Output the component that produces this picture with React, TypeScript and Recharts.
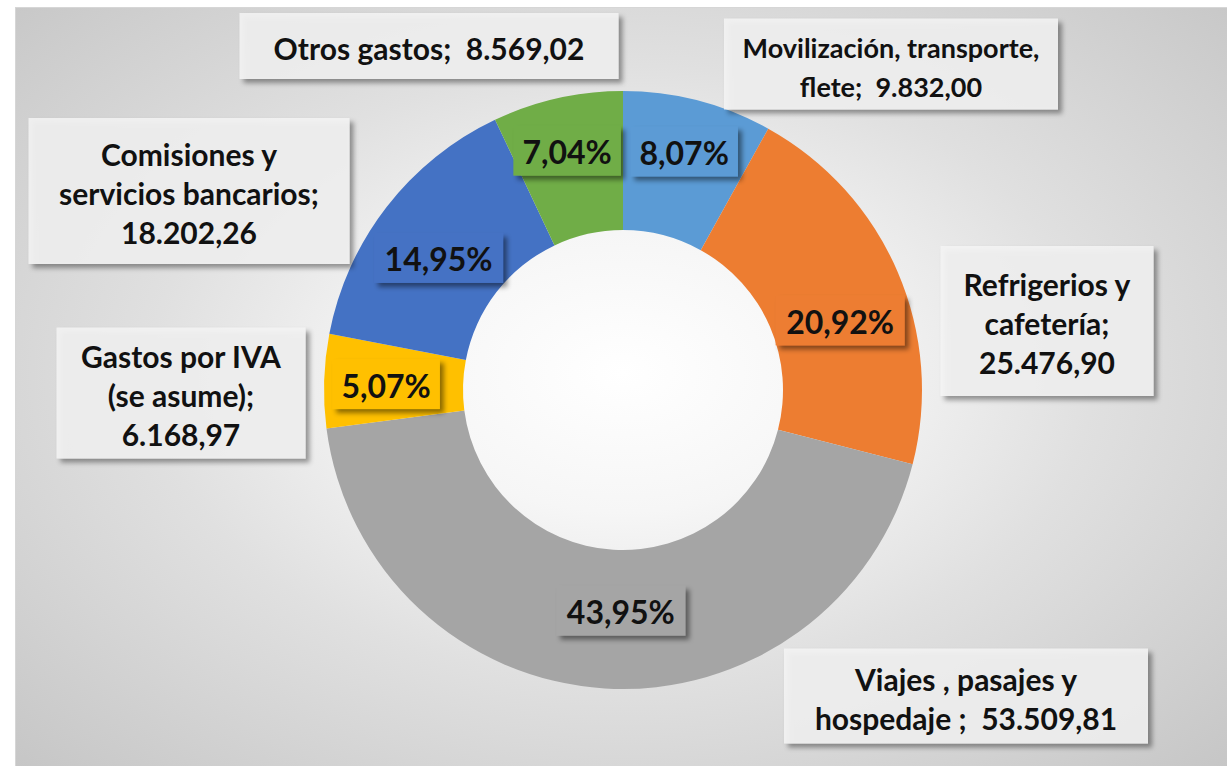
import { PieChart, Pie, Cell } from 'recharts';

const categories = [
  'Movilización, transporte,\nflete',
  'Refrigerios y\ncafetería',
  'Viajes , pasajes y\nhospedaje ',
  'Gastos por IVA\n(se asume)',
  'Comisiones y\nservicios bancarios',
  'Otros gastos',
];
const amounts = [9832.0, 25476.9, 53509.81, 6168.97, 18202.26, 8569.02];
// true when the value goes on its own line in the callout
const valueOnNewLine = [false, true, false, true, true, false];
const sliceColors = ['#5B9BD5', '#ED7D31', '#A5A5A5', '#FFC000', '#4472C4', '#70AD47'];

// callout boxes placed by hand (offset from the pie centre, box size, font size)
const calloutBoxes = [
  { dx: 268, dy: -326, w: 334, h: 91, fs: 27 },
  { dx: 424, dy: -69, w: 213, h: 150, fs: 30 },
  { dx: 343, dy: 306, w: 364, h: 95, fs: 30 },
  { dx: -442, dy: 3, w: 249, h: 131, fs: 30 },
  { dx: -434, dy: -199, w: 321, h: 146, fs: 30 },
  { dx: -194, dy: -344, w: 379, h: 66, fs: 30 },
];
const percentNudge = [
  [3, -14],
  [4, 22],
  [12, -11],
  [-5, 1],
  [-1, 10],
  [-5, -13],
];

const data = categories.map((name, i) => ({ name, value: amounts[i] }));

const FONT = 'Lato, "Open Sans", sans-serif';
const LINE_H = 39;

const formatEs = (v: number) => {
  const [int, dec] = v.toFixed(2).split('.');
  return int.replace(/\B(?=(\d{3})+(?!\d))/g, '.') + ',' + dec;
};

const renderLabel = (props: any) => {
  const { cx, cy, midAngle, percent, index } = props;
  const RAD = Math.PI / 180;
  const r = 232;
  const px = cx + r * Math.cos(-midAngle * RAD) + percentNudge[index][0];
  const py = cy + r * Math.sin(-midAngle * RAD) + percentNudge[index][1];
  const pct = (percent * 100).toFixed(2).replace('.', ',') + '%';
  const pw = pct.length * 21.5;
  const ph = 50;

  const box = calloutBoxes[index];
  const bx = cx + box.dx;
  const by = cy + box.dy;
  const text =
    categories[index] + (valueOnNewLine[index] ? ';\n' : ';  ') + formatEs(amounts[index]);
  const lines = text.split('\n');

  return (
    <g key={`lbl-${index}`}>
      <rect
        x={px - pw / 2}
        y={py - ph / 2}
        width={pw}
        height={ph}
        fill={sliceColors[index]}
        filter="url(#boxShadow)"
      />
      <text
        x={px}
        y={py + 1}
        textAnchor="middle"
        dominantBaseline="central"
        fontFamily={FONT}
        fontWeight={700}
        fontSize={32}
        fill="#111"
      >
        {pct}
      </text>
      <rect
        x={bx - box.w / 2}
        y={by - box.h / 2}
        width={box.w}
        height={box.h}
        fill="#f4f4f4"
        fillOpacity={0.85}
        filter="url(#boxShadow)"
      />
      <text
        textAnchor="middle"
        dominantBaseline="central"
        fontFamily={FONT}
        fontWeight={700}
        fontSize={box.fs}
        fill="#111"
        style={{ whiteSpace: 'pre' }}
      >
        {lines.map((ln, i) => (
          <tspan key={i} x={bx} y={by + (i - (lines.length - 1) / 2) * LINE_H + 2}>
            {ln}
          </tspan>
        ))}
      </text>
    </g>
  );
};

export default function App() {
  return (
    <div
      style={{
        position: 'absolute',
        left: 15,
        top: 7,
        width: 1212,
        height: 759,
        borderTop: '1px solid #d6d6d6',
        borderLeft: '1px solid #d6d6d6',
        background:
          'radial-gradient(ellipse farthest-corner at 50% 48%, #ffffff 0%, #f6f6f6 25%, #e0e0e0 55%, #c6c6c6 100%)',
      }}
    >
      <svg width={0} height={0} style={{ position: 'absolute' }}>
        <defs>
          <filter id="boxShadow" x="-20%" y="-20%" width="150%" height="160%">
            <feDropShadow dx={4} dy={4} stdDeviation={2.5} floodColor="#000" floodOpacity={0.45} />
          </filter>
        </defs>
      </svg>
      <PieChart width={1212} height={759} margin={{ top: 0, right: 0, bottom: 0, left: 0 }}>
        <Pie
          data={data}
          dataKey="value"
          nameKey="name"
          cx={607}
          cy={382}
          innerRadius={160}
          outerRadius={299}
          startAngle={90}
          endAngle={-270}
          stroke="none"
          label={renderLabel}
          labelLine={false}
          isAnimationActive={false}
        >
          {data.map((d, i) => (
            <Cell key={d.name} fill={sliceColors[i]} />
          ))}
        </Pie>
      </PieChart>
    </div>
  );
}
